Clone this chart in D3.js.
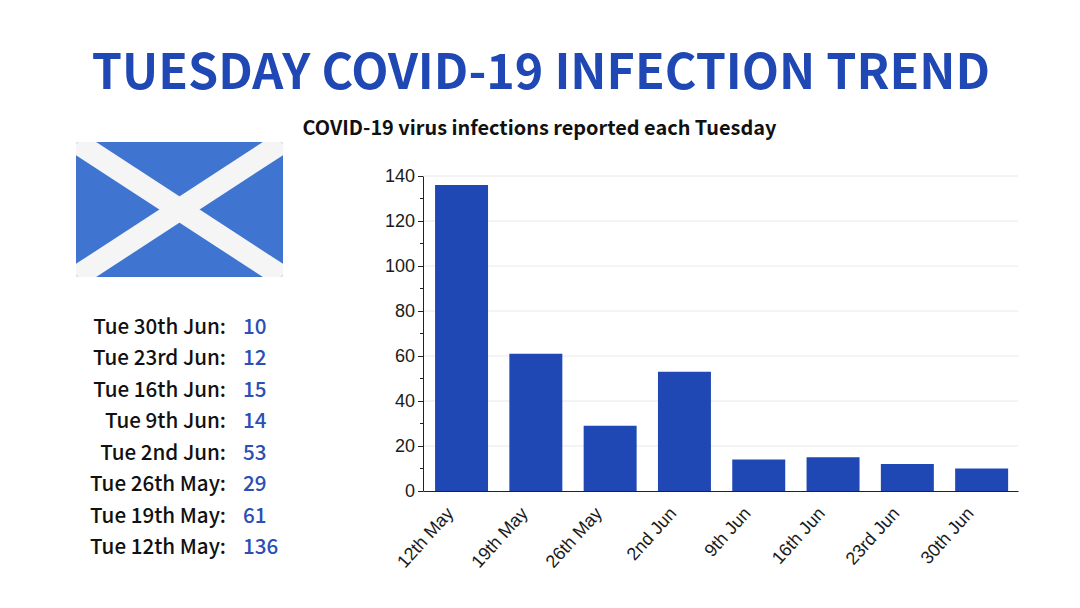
<!DOCTYPE html>
<html>
<head>
<meta charset="utf-8">
<script src="https://cdn.jsdelivr.net/npm/d3@7"></script>
<style>
  html, body { margin: 0; padding: 0; background: #fff; }
  svg { display: block; }
  .head { font-family: "Noto Sans CJK SC", "Noto Sans", sans-serif; }
  .axis text { font-family: "Liberation Sans", Arial, sans-serif; font-size: 18px; fill: #1a1a1a; }
  .axis path, .axis line { stroke: #222; stroke-width: 1px; }
</style>
</head>
<body>
<div id="chart"></div>
<script>
const weeks = ['12th May', '19th May', '26th May', '2nd Jun', '9th Jun', '16th Jun', '23rd Jun', '30th Jun'];
const infections = [136, 61, 29, 53, 14, 15, 12, 10];
const listLabels = ['Tue 30th Jun:', 'Tue 23rd Jun:', 'Tue 16th Jun:', 'Tue 9th Jun:', 'Tue 2nd Jun:', 'Tue 26th May:', 'Tue 19th May:', 'Tue 12th May:'];
const listValues = [10, 12, 15, 14, 53, 29, 61, 136];
const yTicks = [0, 20, 40, 60, 80, 100, 120, 140];
const yMinorTicks = [10, 30, 50, 70, 90, 110, 130];

const blue = '#1f48b4';
const svg = d3.select('#chart').append('svg').attr('width', 1080).attr('height', 608);

svg.append('text').attr('class', 'head')
  .attr('x', 541).attr('y', 89).attr('text-anchor', 'middle')
  .attr('font-size', 48.4).attr('font-weight', 700).attr('fill', blue)
  .text('TUESDAY COVID-19 INFECTION TREND');

svg.append('text').attr('class', 'head')
  .attr('x', 539.5).attr('y', 135).attr('text-anchor', 'middle')
  .attr('font-size', 19.9).attr('font-weight', 700).attr('fill', '#111')
  .text('COVID-19 virus infections reported each Tuesday');

// flag
const flag = {x: 76, y: 142, w: 207, h: 135};
svg.append('clipPath').attr('id', 'flagclip').append('rect')
  .attr('x', flag.x).attr('y', flag.y).attr('width', flag.w).attr('height', flag.h).attr('rx', 3);
const fg = svg.append('g').attr('clip-path', 'url(#flagclip)');
fg.append('rect').attr('x', flag.x).attr('y', flag.y).attr('width', flag.w).attr('height', flag.h).attr('fill', '#3f75d0');
[[flag.x, flag.y, flag.x + flag.w, flag.y + flag.h], [flag.x, flag.y + flag.h, flag.x + flag.w, flag.y]].forEach(d => {
  fg.append('line').attr('x1', d[0]).attr('y1', d[1]).attr('x2', d[2]).attr('y2', d[3])
    .attr('stroke', '#f5f5f5').attr('stroke-width', 22);
});

// list on the left
const rowY = d3.scalePoint().domain(d3.range(listLabels.length)).range([334, 554]);
const rows = svg.append('g').attr('class', 'head').attr('font-size', 20.6).attr('font-weight', 500);
rows.selectAll('text.lab').data(listLabels).join('text').attr('class', 'lab')
  .attr('x', 226).attr('y', (d, i) => rowY(i)).attr('text-anchor', 'end').attr('fill', '#111').text(d => d);
rows.selectAll('text.val').data(listValues).join('text').attr('class', 'val')
  .attr('x', 243).attr('y', (d, i) => rowY(i)).attr('fill', '#2c4fb5').text(d => d);

// bar chart
const x = d3.scaleBand().domain(weeks).range([423, 1018]).paddingInner(0.287).paddingOuter(0.1475).align(0.55);
const y = d3.scaleLinear().domain([0, 140]).range([491, 176]);

svg.append('g').selectAll('line').data(yTicks.slice(1)).join('line')
  .attr('x1', 423).attr('x2', 1018).attr('y1', d => y(d)).attr('y2', d => y(d))
  .attr('stroke', '#e8e8e8').attr('stroke-width', 1);

svg.append('g').selectAll('rect').data(infections).join('rect')
  .attr('x', (d, i) => x(weeks[i])).attr('width', x.bandwidth())
  .attr('y', d => y(d)).attr('height', d => y(0) - y(d))
  .attr('fill', blue);

const yAxis = svg.append('g').attr('class', 'axis').attr('transform', 'translate(423,0)')
  .call(d3.axisLeft(y).tickValues(yTicks).tickSize(5).tickSizeOuter(0).tickPadding(3));
yAxis.append('g').selectAll('line').data(yMinorTicks).join('line')
  .attr('x1', -3).attr('x2', 0).attr('y1', d => y(d)).attr('y2', d => y(d));

const xAxis = svg.append('g').attr('class', 'axis').attr('transform', 'translate(0,491)')
  .call(d3.axisBottom(x).tickSize(0).tickSizeOuter(0));
xAxis.selectAll('text')
  .attr('text-anchor', 'end').attr('dy', 0).attr('y', 0)
  .attr('transform', 'translate(-7,23) rotate(-48)');
</script>
</body>
</html>
